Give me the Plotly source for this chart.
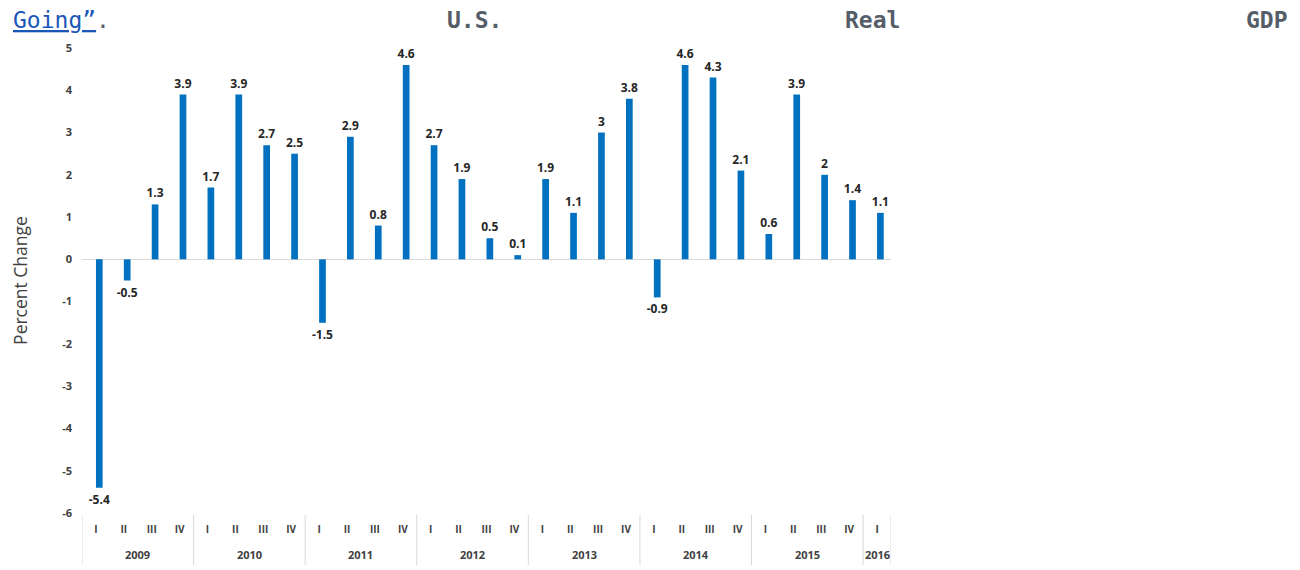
import plotly.graph_objects as go

years = ["2009"] * 4 + ["2010"] * 4 + ["2011"] * 4 + ["2012"] * 4 + ["2013"] * 4 + ["2014"] * 4 + ["2015"] * 4 + ["2016"]
quarters = ["I", "II", "III", "IV"] * 7 + ["I"]
gdp_change = [-5.4, -0.5, 1.3, 3.9,
              1.7, 3.9, 2.7, 2.5,
              -1.5, 2.9, 0.8, 4.6,
              2.7, 1.9, 0.5, 0.1,
              1.9, 1.1, 3.0, 3.8,
              -0.9, 4.6, 4.3, 2.1,
              0.6, 3.9, 2.0, 1.4,
              1.1]
labels = [("%g" % v) for v in gdp_change]
y_ticks = list(range(-6, 6))
y_ticktext = [str(v) for v in y_ticks]

keys = [f"{y} {q}" for y, q in zip(years, quarters)]
n = len(keys)

fig = go.Figure()
fig.add_trace(go.Bar(
    x=keys,
    y=gdp_change,
    text=labels,
    textposition="outside",
    constraintext="none",
    cliponaxis=False,
    textfont=dict(family="Open Sans", size=12, color="#262626", weight="bold"),
    marker=dict(color="#0070C0", line=dict(width=0)),
    width=0.24,
    offset=0.0,
))

# page body adds an 8px offset; plot area spans screen x 82..891, y 48..513
fig.update_layout(
    width=1300, height=570,
    margin=dict(l=74, r=417, t=40, b=65),
    paper_bgcolor="white", plot_bgcolor="white",
    showlegend=False,
    xaxis=dict(
        type="category", range=[-0.5, n - 0.5], automargin=False,
        tickvals=keys, ticktext=quarters,
        showgrid=False, showline=False, ticks="",
        tickfont=dict(family="Open Sans", size=10, color="#404040", weight="bold"),
        ticklabelstandoff=9,
    ),
    yaxis=dict(
        range=[-6, 5], tickvals=y_ticks, ticktext=y_ticktext, automargin=False,
        showgrid=False, showline=False,
        zeroline=True, zerolinecolor="#d9d9d9", zerolinewidth=1,
        tickfont=dict(family="Open Sans", size=11, color="#404040", weight="bold"),
        ticklabelstandoff=9,
        title=dict(text="Percent Change", standoff=38,
                   font=dict(family="Open Sans", size=17.5, color="#404040")),
    ),
)

# year group labels and dividers
groups = []
for i, y in enumerate(years):
    if not groups or groups[-1][0] != y:
        groups.append([y, i, i])
    else:
        groups[-1][2] = i
for y, i0, i1 in groups:
    fig.add_annotation(xref="x", yref="paper", x=(i0 + i1) / 2, y=0, yshift=-41,
                       xanchor="center", yanchor="middle", showarrow=False, text=y,
                       font=dict(family="Open Sans", size=11, color="#404040", weight="bold"))
bounds = [g[1] - 0.5 for g in groups] + [groups[-1][2] + 0.5]
for b in bounds:
    fig.add_shape(type="line", xref="x", yref="paper", x0=b, x1=b, y0=-0.004, y1=-0.112,
                  line=dict(color="#d9d9d9", width=1))

mono = "DejaVu Sans Mono"
fig.add_annotation(xref="paper", yref="paper", x=-0.0878, y=1.06, xanchor="left", yanchor="middle",
                   showarrow=False,
                   text="<span style='color:#1a56b8'><u>Going”</u></span>.",
                   font=dict(family=mono, size=23, color="#555e68"))
for txt, xp, anchor in [("U.S.", 0.4487, "left"), ("Real", 0.9407, "left"), ("GDP", 1.493, "right")]:
    fig.add_annotation(xref="paper", yref="paper", x=xp, y=1.06, xanchor=anchor, yanchor="middle",
                       showarrow=False, text=txt,
                       font=dict(family=mono, size=23, color="#555e68", weight="bold"))

fig.write_html("out.html")
